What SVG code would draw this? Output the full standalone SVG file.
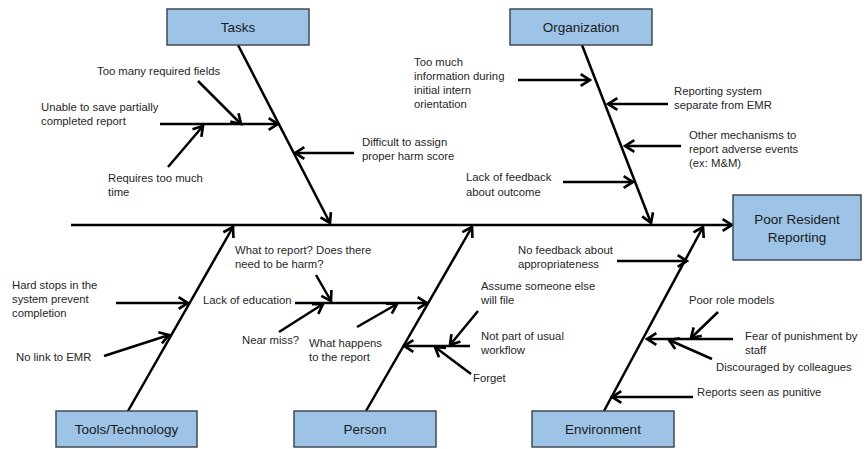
<svg xmlns="http://www.w3.org/2000/svg" width="866" height="449" viewBox="0 0 866 449">
<defs>
<style>
.box{fill:#9DC3E6;stroke:#3F4A56;stroke-width:1.5}
.title{font-family:"Liberation Sans",Arial,sans-serif;font-size:13.5px;fill:#1a1a1a;text-anchor:middle}
.lbl{font-family:"Liberation Sans",Arial,sans-serif;font-size:11.3px;fill:#262626}
.ln{stroke:#000;stroke-width:2.5;fill:none;marker-end:url(#ah)}
</style>
<marker id="ah" markerUnits="userSpaceOnUse" markerWidth="14" markerHeight="14" viewBox="0 0 12 12" refX="10" refY="6" orient="auto">
<path d="M2,1 L10,6 L2,11" fill="none" stroke="#000" stroke-width="2.3"/>
</marker>
</defs>
<rect width="866" height="449" fill="#fff"/>
<g id="connectors">
<line class="ln" x1="71" y1="225" x2="732" y2="225"/>
<line class="ln" x1="238" y1="45" x2="330" y2="223"/>
<line class="ln" x1="582" y1="45" x2="651" y2="223"/>
<line class="ln" x1="128" y1="411" x2="233" y2="227"/>
<line class="ln" x1="366" y1="411" x2="472" y2="227"/>
<line class="ln" x1="604" y1="411" x2="703" y2="227"/>
<line class="ln" x1="198" y1="81" x2="241" y2="124"/>
<line class="ln" x1="160" y1="124" x2="278" y2="124"/>
<line class="ln" x1="168" y1="167" x2="203" y2="126"/>
<line class="ln" x1="354" y1="153" x2="295" y2="153"/>
<line class="ln" x1="518" y1="80" x2="590" y2="80"/>
<line class="ln" x1="668" y1="104" x2="608" y2="104"/>
<line class="ln" x1="681" y1="146" x2="625" y2="146"/>
<line class="ln" x1="563" y1="182" x2="633" y2="182"/>
<line class="ln" x1="116" y1="303" x2="188" y2="303"/>
<line class="ln" x1="104" y1="356" x2="169" y2="335"/>
<line class="ln" x1="316" y1="275" x2="331" y2="301"/>
<line class="ln" x1="295" y1="303" x2="427" y2="303"/>
<line class="ln" x1="279" y1="332" x2="323" y2="304"/>
<line class="ln" x1="357" y1="327" x2="397" y2="304"/>
<line class="ln" x1="478" y1="311" x2="450" y2="345"/>
<line class="ln" x1="470" y1="346" x2="404" y2="346"/>
<line class="ln" x1="471" y1="374" x2="435" y2="347"/>
<line class="ln" x1="617" y1="261" x2="687" y2="261"/>
<line class="ln" x1="718" y1="312" x2="691" y2="338"/>
<line class="ln" x1="733" y1="339" x2="647" y2="339"/>
<line class="ln" x1="712" y1="359" x2="669" y2="340"/>
<line class="ln" x1="693" y1="397" x2="612" y2="397"/>
</g>
<g id="tasks"><rect class="box" x="167" y="9" width="142" height="36"/><text class="title" x="238" y="32">Tasks</text></g>
<g id="organization"><rect class="box" x="510" y="9" width="142" height="36"/><text class="title" x="581" y="32">Organization</text></g>
<g id="tools"><rect class="box" x="56" y="411" width="141" height="36"/><text class="title" x="126.5" y="434">Tools/Technology</text></g>
<g id="person"><rect class="box" x="294" y="411" width="142" height="36"/><text class="title" x="365" y="434">Person</text></g>
<g id="environment"><rect class="box" x="532" y="411" width="142" height="36"/><text class="title" x="603" y="434">Environment</text></g>
<g id="effect"><rect class="box" x="733" y="195" width="128" height="65"/><text class="title" x="797" y="224">Poor Resident</text><text class="title" x="797" y="242">Reporting</text></g>
<g id="labels">
<text class="lbl" x="97" y="75">Too many required fields</text>
<text class="lbl" x="41" y="111">Unable to save partially</text>
<text class="lbl" x="41" y="125">completed report</text>
<text class="lbl" x="108" y="182">Requires too much</text>
<text class="lbl" x="108" y="196">time</text>
<text class="lbl" x="362" y="146">Difficult to assign</text>
<text class="lbl" x="362" y="160">proper harm score</text>
<text class="lbl" x="414" y="66">Too much</text>
<text class="lbl" x="414" y="80">information during</text>
<text class="lbl" x="414" y="94">initial intern</text>
<text class="lbl" x="414" y="108">orientation</text>
<text class="lbl" x="674" y="95">Reporting system</text>
<text class="lbl" x="674" y="109">separate from EMR</text>
<text class="lbl" x="689" y="139">Other mechanisms to</text>
<text class="lbl" x="689" y="153">report adverse events</text>
<text class="lbl" x="689" y="167">(ex: M&amp;M)</text>
<text class="lbl" x="466" y="181">Lack of feedback</text>
<text class="lbl" x="466" y="196">about outcome</text>
<text class="lbl" x="12" y="289">Hard stops in the</text>
<text class="lbl" x="12" y="303">system prevent</text>
<text class="lbl" x="12" y="317">completion</text>
<text class="lbl" x="16" y="361">No link to EMR</text>
<text class="lbl" x="235" y="254">What to report? Does there</text>
<text class="lbl" x="235" y="268">need to be harm?</text>
<text class="lbl" x="203" y="304">Lack of education</text>
<text class="lbl" x="242" y="344">Near miss?</text>
<text class="lbl" x="309" y="347">What happens</text>
<text class="lbl" x="309" y="361">to the report</text>
<text class="lbl" x="481" y="290">Assume someone else</text>
<text class="lbl" x="481" y="304">will file</text>
<text class="lbl" x="481" y="340">Not part of usual</text>
<text class="lbl" x="481" y="354">workflow</text>
<text class="lbl" x="473" y="382">Forget</text>
<text class="lbl" x="518" y="254">No feedback about</text>
<text class="lbl" x="518" y="268">appropriateness</text>
<text class="lbl" x="689" y="304">Poor role models</text>
<text class="lbl" x="745" y="340">Fear of punishment by</text>
<text class="lbl" x="745" y="354">staff</text>
<text class="lbl" x="716" y="371">Discouraged by colleagues</text>
<text class="lbl" x="697" y="396">Reports seen as punitive</text>
</g>
</svg>
